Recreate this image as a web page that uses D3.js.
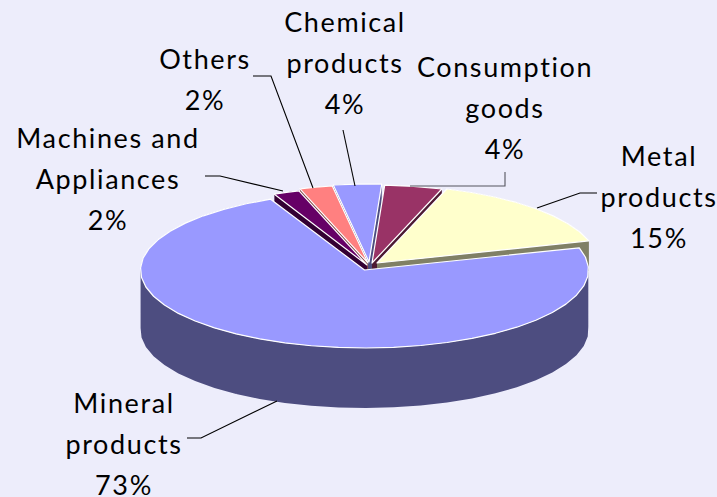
<!DOCTYPE html>
<html><head><meta charset="utf-8">
<script src="https://d3js.org/d3.v7.min.js"></script>
<style>html,body{margin:0;padding:0;background:#ededfb}svg{display:block}text{font-family:Lato,"Open Sans",sans-serif;font-size:27px;fill:#000;letter-spacing:1.6px}</style>
</head><body><svg id="c" width="717" height="497"></svg>
<script>
// Data
const categories=["Mineral products","Machines and Appliances","Others","Chemical products","Consumption goods","Metal products"];
const values=[72.7,1.9,2.4,3.5,4.2,15.3];
const topColors=["#9999ff","#660066","#ff8080","#9999ff","#993366","#ffffcc"];
const sideColors=["#4d4d80","#330033","#804040","#4d4d80","#4d1a33","#808066"];
// Layout
const W=717,H=497,depth=60,backDepth=30;
const radiiX=[224,221,221,221,221,221],radiiY=[78,78,78,78,78,78];
const apex=[[364.5,270],[367,265],[368,263],[369,262],[372,263],[377,263]];
const labelLines=[["Mineral","products"],["Machines and","Appliances"],["Others"],["Chemical","products"],["Consumption","goods"],["Metal","products"]];
const labelPos=[[124,413],[108,148],[205,69],[345,32],[505,77],[659,166]];
const leaders=[
 [[187,438],[201,438],[277,401]],
 [[205,176],[220,176],[283,191]],
 [[253,76],[271,76],[313,188]],
 [[343,130],[355,186]],
 [[505,172],[505,186],[410,186]],
 [[597,193],[580,193],[537,208]]];
const leaderColors=["#000","#000","#000","#000","#55555f","#000"];

const svg=d3.select("#c");
const rad=d=>d*Math.PI/180;
const pie=d3.pie().sort(null).startAngle(rad(73.5)).endAngle(rad(433.5));
const arcs=pie(values);
const line=d3.line();
function outline(a,i){
  const [cx,cy]=apex[i],pts=[[cx,cy]];
  const n=Math.max(2,Math.round((a.endAngle-a.startAngle)/rad(7)));
  const t=d3.scaleLinear().domain([0,n]).range([a.startAngle,a.endAngle]);
  d3.range(n+1).forEach(k=>pts.push([cx+radiiX[i]*Math.sin(t(k)),cy-radiiY[i]*Math.cos(t(k))]));
  return pts;
}
const outlines=arcs.map(outline);
function drawSide(i){
  const p=outlines[i],dp=i===0?depth:backDepth;
  const closed=p.concat([p[0]]);
  const d=d3.pairs(closed).map(([a,b])=>{
    const q=[a,b,[b[0],b[1]+dp],[a[0],a[1]+dp]];
    // keep every quad wound the same way so the union has no holes
    return (d3.polygonArea(q)<0?line(q.slice().reverse()):line(q))+"Z";
  }).join("");
  svg.append("path").attr("d",d).attr("fill",sideColors[i]);
}
function drawTop(i){
  svg.append("path").attr("d",line(outlines[i])+"Z").attr("fill",topColors[i])
    .attr("stroke","#fff").attr("stroke-width",1.2).attr("stroke-linejoin","round");
}
[3,2,4,1,5].forEach(drawSide);
[1,2,3,4,5].forEach(drawTop);
drawSide(0);drawTop(0);

// leader lines
leaders.forEach((l,i)=>svg.append("path").attr("d",line(l)).attr("fill","none")
  .attr("stroke",leaderColors[i]).attr("stroke-width",1.1));

// labels
categories.forEach((c,i)=>{
  const lines=labelLines[i].concat([Math.round(values[i])+"%"]);
  const t=svg.append("text").attr("text-anchor","middle");
  lines.forEach((s,k)=>t.append("tspan").attr("x",labelPos[i][0]).attr("y",labelPos[i][1]+k*41).text(s));
});
</script></body></html>
